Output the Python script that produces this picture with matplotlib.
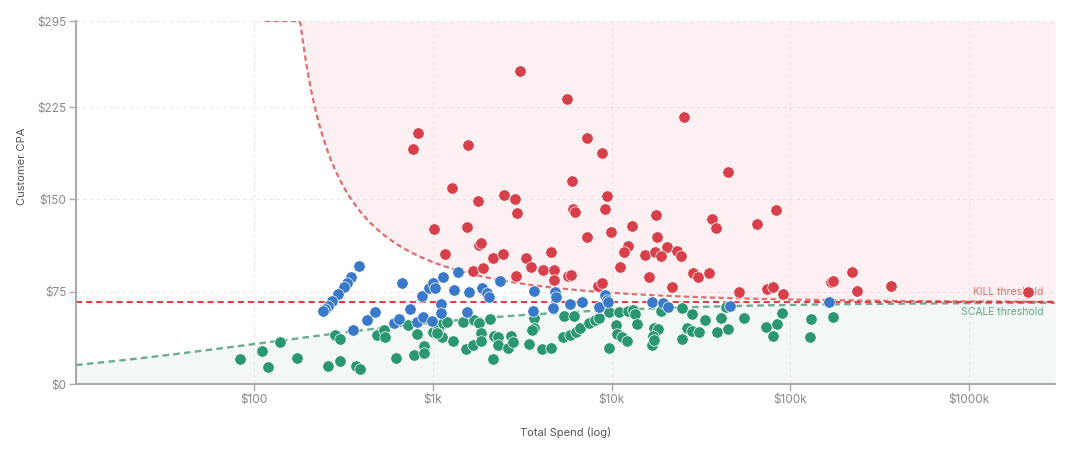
import numpy as np
import matplotlib
matplotlib.use("Agg")
import matplotlib.pyplot as plt
from matplotlib.ticker import FixedLocator, NullLocator

plt.rcParams['font.family'] = ['Inter', 'DejaVu Sans']

# campaigns flagged KILL (spend $, CPA $)
kill_spend = [823, 772, 1568, 1287, 1798, 2494, 2895, 2949, 1016, 1549, 1826, 1850,
              1176, 2181, 2472, 3311, 3559, 4123, 4571, 4769, 4786, 1680, 1903, 2923,
              5689, 5911, 5987, 7266, 8882, 6113, 6224, 9197, 9474, 7266, 9936, 8372,
              8882, 3077, 5638, 25440, 45010, 17740, 83240, 64910, 13070, 18040, 36360,
              38280, 12420, 11750, 20440, 15390, 17580, 18920, 23160, 24480, 11160,
              16150, 28680, 30590, 35120, 21710, 51880, 73850, 79770, 90740, 221600,
              235600, 367100, 2127000, 169000, 172800]
kill_cpa = [203.7, 191.2, 194.5, 159.5, 148.7, 153.8, 150.6, 139.2, 125.7, 127.4, 113.0, 115.0,
            105.7, 102.6, 105.7, 102.2, 95.1, 92.4, 107.3, 92.4, 84.3, 92.1, 94.0, 87.5,
            87.8, 88.3, 164.7, 200.2, 187.5, 142.5, 139.5, 142.5, 152.8, 119.7, 123.3, 79.4,
            82.1, 254.4, 231.6, 217.0, 172.3, 137.1, 141.7, 130.3, 128.4, 119.5, 133.9,
            126.5, 112.4, 107.0, 111.6, 104.8, 107.3, 104.3, 108.1, 104.3, 95.3,
            86.7, 90.0, 86.7, 90.0, 79.1, 75.0, 77.0, 79.1, 73.1, 91.0,
            75.6, 79.4, 74.8, 82.9, 84.0]

# campaigns on WATCH
watch_spend = [388, 349, 330, 320, 296, 274, 260, 250, 242, 670, 867, 746, 477, 427,
               359, 609, 647, 820, 885, 949, 1007, 1029, 1137, 1384, 1320, 1589, 1879,
               2004, 2072, 2369, 1116, 1112, 1555, 990, 3700, 4812, 4912, 3638, 4708,
               5837, 6839, 8511, 9197, 9400, 9596, 16790, 19340, 20780, 46020, 165400]
watch_cpa = [96.1, 87.2, 81.8, 79.1, 73.1, 67.5, 63.4, 61.0, 59.6, 82.3, 71.5, 61.2, 58.8, 52.0,
             44.1, 49.3, 53.1, 50.1, 54.7, 77.8, 81.8, 78.3, 86.7, 91.0, 76.4, 74.5, 77.8,
             73.7, 70.9, 84.0, 65.0, 57.9, 58.8, 51.4, 75.8, 74.8, 70.7, 59.3, 62.0,
             65.3, 66.6, 62.8, 72.3, 68.3, 66.9, 66.9, 65.6, 62.8, 63.6, 66.9]

# campaigns flagged SCALE
scale_spend = [84, 111, 120, 139, 173, 284, 303, 259, 302, 371, 392, 486, 536, 543, 621,
               724, 816, 782, 890, 893, 1007, 1074, 1146, 1197, 1122, 1052, 1293, 1482,
               1535, 1673, 1708, 1822, 1854, 1854, 2091, 2165, 2202, 2326, 2326, 2626,
               2741, 2822, 3455, 3686, 3686, 3578, 4102, 4606, 5424, 6168, 5376, 5859,
               6330, 6665, 7512, 8087, 8545, 9683, 9721, 11010, 12420, 13140, 13540,
               13840, 10560, 10690, 11450, 12260, 17290, 18280, 17130, 16790, 17360,
               18920, 24700, 28310, 26350, 28310, 30870, 24890, 33360, 40990, 43550,
               38770, 45010, 55340, 73160, 84650, 80400, 89590, 130700, 172800, 128300]
scale_cpa = [20.6, 27.1, 14.1, 34.1, 20.9, 39.8, 36.8, 14.6, 18.4, 14.6, 11.9, 39.8, 43.9, 38.0, 21.4,
             47.7, 40.4, 23.8, 30.5, 24.8, 42.0, 44.5, 49.3, 50.1, 38.4, 41.2, 35.2, 50.6,
             28.4, 31.7, 52.0, 49.3, 41.2, 34.9, 52.8, 20.1, 39.0, 38.4, 31.7, 29.0,
             39.0, 34.4, 32.3, 53.4, 45.3, 43.9, 28.2, 29.5, 55.3, 55.3, 38.0, 39.8,
             42.5, 45.3, 49.3, 52.0, 53.9, 58.8, 29.5, 58.3, 59.6, 60.1, 56.6,
             48.5, 47.9, 40.6, 38.0, 35.2, 45.3, 44.7, 39.0, 31.7, 35.8,
             59.6, 62.0, 56.9, 45.3, 43.3, 42.5, 36.3, 52.0, 53.9, 62.8,
             42.5, 44.7, 53.4, 46.6, 48.5, 39.3, 57.9, 52.6, 54.2, 38.0]

TARGET_CPA = 66.4
Z = 1.28
Y_MAX = 295
X_MIN, X_MAX = 10.1, 3.03e6

RED = '#d7404a'
BLUE = '#3a79c9'
GREEN = '#2a9772'

fig = plt.figure(figsize=(10.8, 4.53), dpi=100)
ax = fig.add_axes([0.0704, 0.1523, 0.9065, 0.8013])

# threshold curves (confidence bounds around target CPA)
s_all = np.logspace(np.log10(X_MIN), np.log10(X_MAX), 600)
scale_line = TARGET_CPA / (1 + Z * np.sqrt(TARGET_CPA / s_all))
s_kill = np.logspace(np.log10(115), np.log10(X_MAX), 600)
kill_line = TARGET_CPA / (1 - Z * np.sqrt(TARGET_CPA / s_kill))
kill_line = np.minimum(kill_line, Y_MAX)

ax.fill_between(s_kill, kill_line, Y_MAX, color='#fdf0f2', lw=0, zorder=0)
ax.fill_between(s_all, 0, scale_line, color='#f3f8f6', lw=0, zorder=0)

ax.plot(s_kill, kill_line, color='#e26d6f', lw=1.6, dashes=(2.4, 1.5), zorder=2)
ax.plot(s_all, scale_line, color='#6aae8e', lw=1.7, dashes=(2.8, 1.8), zorder=2)
ax.axhline(TARGET_CPA, color='#e5383b', lw=1.4, dashes=(3.2, 2.0), zorder=2)

ax.text(2.6e6, 74.8, 'KILL threshold', color='#e26d6f', fontsize=7.5,
        ha='right', va='center', zorder=3)
ax.text(2.6e6, 58.5, 'SCALE threshold', color='#5fa883', fontsize=7.5,
        ha='right', va='center', zorder=3)

pt = dict(s=68, edgecolors='white', linewidths=0.5, zorder=4)
ax.scatter(kill_spend, kill_cpa, color=RED, **pt)
ax.scatter(scale_spend, scale_cpa, color=GREEN, **pt)
ax.scatter(watch_spend, watch_cpa, color=BLUE, **pt)

ax.set_xscale('log')
ax.set_xlim(X_MIN, X_MAX)
ax.set_ylim(0, Y_MAX)

xt = [100, 1000, 10000, 100000, 1000000]
ax.xaxis.set_major_locator(FixedLocator(xt))
ax.xaxis.set_minor_locator(NullLocator())
ax.set_xticklabels(['$100', '$1k', '$10k', '$100k', '$1000k'])
yt = [0, 75, 150, 225, 295]
ax.set_yticks(yt)
ax.set_yticklabels(['$%d' % v for v in yt])

ax.grid(True, color='#e6e6e6', lw=0.8, dashes=(3, 3), zorder=1)
ax.set_axisbelow(True)

for side in ['top', 'right']:
    ax.spines[side].set_visible(False)
for side in ['left', 'bottom']:
    ax.spines[side].set_color('#aaaaaa')
    ax.spines[side].set_linewidth(1.5)
ax.tick_params(colors='#aaaaaa', labelcolor='#888888', labelsize=8.5,
               length=5, width=1, pad=2)

ax.set_xlabel('Total Spend (log)', fontsize=8, color='#555555', labelpad=15)
ax.set_ylabel('Customer CPA', fontsize=8, color='#555555')
ax.yaxis.set_label_coords(-0.050, 0.60)

fig.savefig('out.png', dpi=100, facecolor='white')
